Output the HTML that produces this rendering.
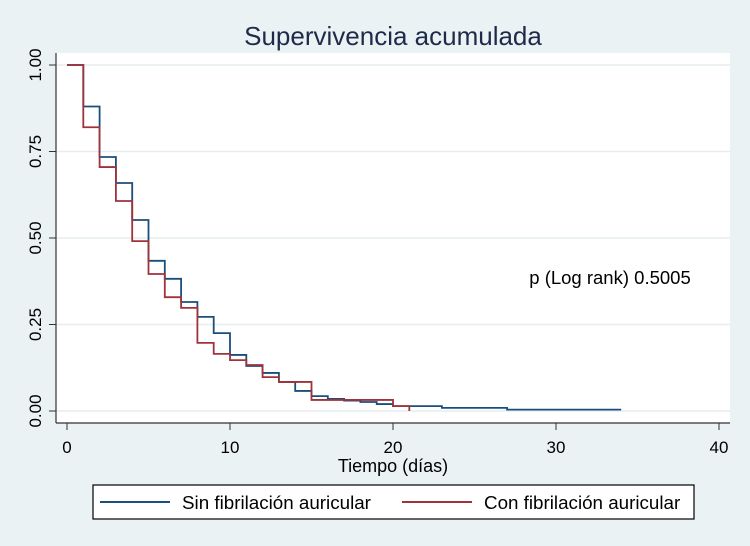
<!DOCTYPE html>
<html><head><meta charset="utf-8"><style>
body{margin:0;background:#eaf2f3;}
svg{display:block;font-family:"Liberation Sans",Arial,sans-serif;}
</style></head><body>
<svg id="chart" width="750" height="546">
<rect x="0" y="0" width="750" height="546" fill="#eaf2f3"/>
<rect x="56" y="53" width="674" height="370" fill="#ffffff"/>
<text x="393" y="45" font-size="26" text-anchor="middle" fill="#1e2a4a">Supervivencia acumulada</text>
<g id="grid"></g>
<g id="axes"></g>
<g id="series"></g>
<text x="610" y="284" font-size="18.5" text-anchor="middle" fill="#000">p (Log rank) 0.5005</text>
<text x="393" y="472" font-size="18" text-anchor="middle" fill="#000">Tiempo (días)</text>
<g>
<rect x="93" y="485" width="601" height="34" fill="#fff" stroke="#000" stroke-width="1.2"/>
<line x1="100" y1="502" x2="170" y2="502" stroke="#1a4e7d" stroke-width="2"/>
<text x="182" y="509" font-size="18.8" fill="#000">Sin fibrilación auricular</text>
<line x1="402" y1="502" x2="472" y2="502" stroke="#a0323a" stroke-width="2"/>
<text x="484" y="509" font-size="18.8" fill="#000">Con fibrilación auricular</text>
</g>
</svg>
<script>
const xTicks=[0,10,20,30,40];
const yTicks=[0,0.25,0.5,0.75,1];
const yTickLabels=["0.00","0.25","0.50","0.75","1.00"];
const sinTimes=[0,1,2,3,4,5,6,7,8,9,10,11,12,13,14,15,16,17,18,19,20,23,27,34];
const sinSurv=[1,0.88,0.734,0.659,0.552,0.434,0.382,0.315,0.272,0.225,0.162,0.13,0.11,0.084,0.058,0.043,0.035,0.03,0.026,0.02,0.014,0.009,0.004,0.004];
const conTimes=[0,1,2,3,4,5,6,7,8,9,10,11,12,13,15,20,21];
const conSurv=[1,0.82,0.705,0.607,0.491,0.396,0.329,0.298,0.197,0.165,0.147,0.133,0.098,0.084,0.032,0.014,0];
const X=t=>67+t*16.3;
const Y=v=>411-v*346;
const NS='http://www.w3.org/2000/svg';
function mk(tag,attrs,parent){const e=document.createElementNS(NS,tag);for(const k in attrs)e.setAttribute(k,attrs[k]);parent.appendChild(e);return e;}
const grid=document.getElementById('grid'),axes=document.getElementById('axes'),series=document.getElementById('series');
yTicks.forEach((v,i)=>{
 const g=mk('line',{x1:56,x2:730,y1:Y(v),y2:Y(v),stroke:'#e6eef0','stroke-width':1.5},grid);
 
 
 const t=mk('line',{x1:49,x2:56,y1:Y(v),y2:Y(v),stroke:'#333','stroke-width':1},axes);
 
 
 const l=mk('text',{x:0,y:0,'font-size':17,'text-anchor':'middle',fill:'#000',transform:`translate(41,${Y(v)}) rotate(-90)`},axes);
 l.textContent=yTickLabels[i];
 
 
});
xTicks.forEach(v=>{
 const t=mk('line',{x1:X(v),x2:X(v),y1:423,y2:430,stroke:'#333','stroke-width':1},axes);
 
 
 const l=mk('text',{x:X(v),y:453,'font-size':17,'text-anchor':'middle',fill:'#000'},axes);
 l.textContent=v;
 
 
});
const ya=mk('line',{x1:56,x2:56,y1:53,y2:423,stroke:'#333','stroke-width':1.2},axes);


const xa=mk('line',{x1:56,x2:730,y1:423,y2:423,stroke:'#333','stroke-width':1.2},axes);


function step(times,surv){
 let d=`M${X(times[0])},${Y(surv[0])}`;
 for(let i=1;i<times.length;i++){d+=`H${X(times[i])}V${Y(surv[i])}`;}
 return d;
}
const ps=mk('path',{d:step(sinTimes,sinSurv),fill:'none',stroke:'#1a4e7d','stroke-width':1.8},series);


const pc=mk('path',{d:step(conTimes,conSurv),fill:'none',stroke:'#a0323a','stroke-width':1.8},series);


</script>
</body></html>
